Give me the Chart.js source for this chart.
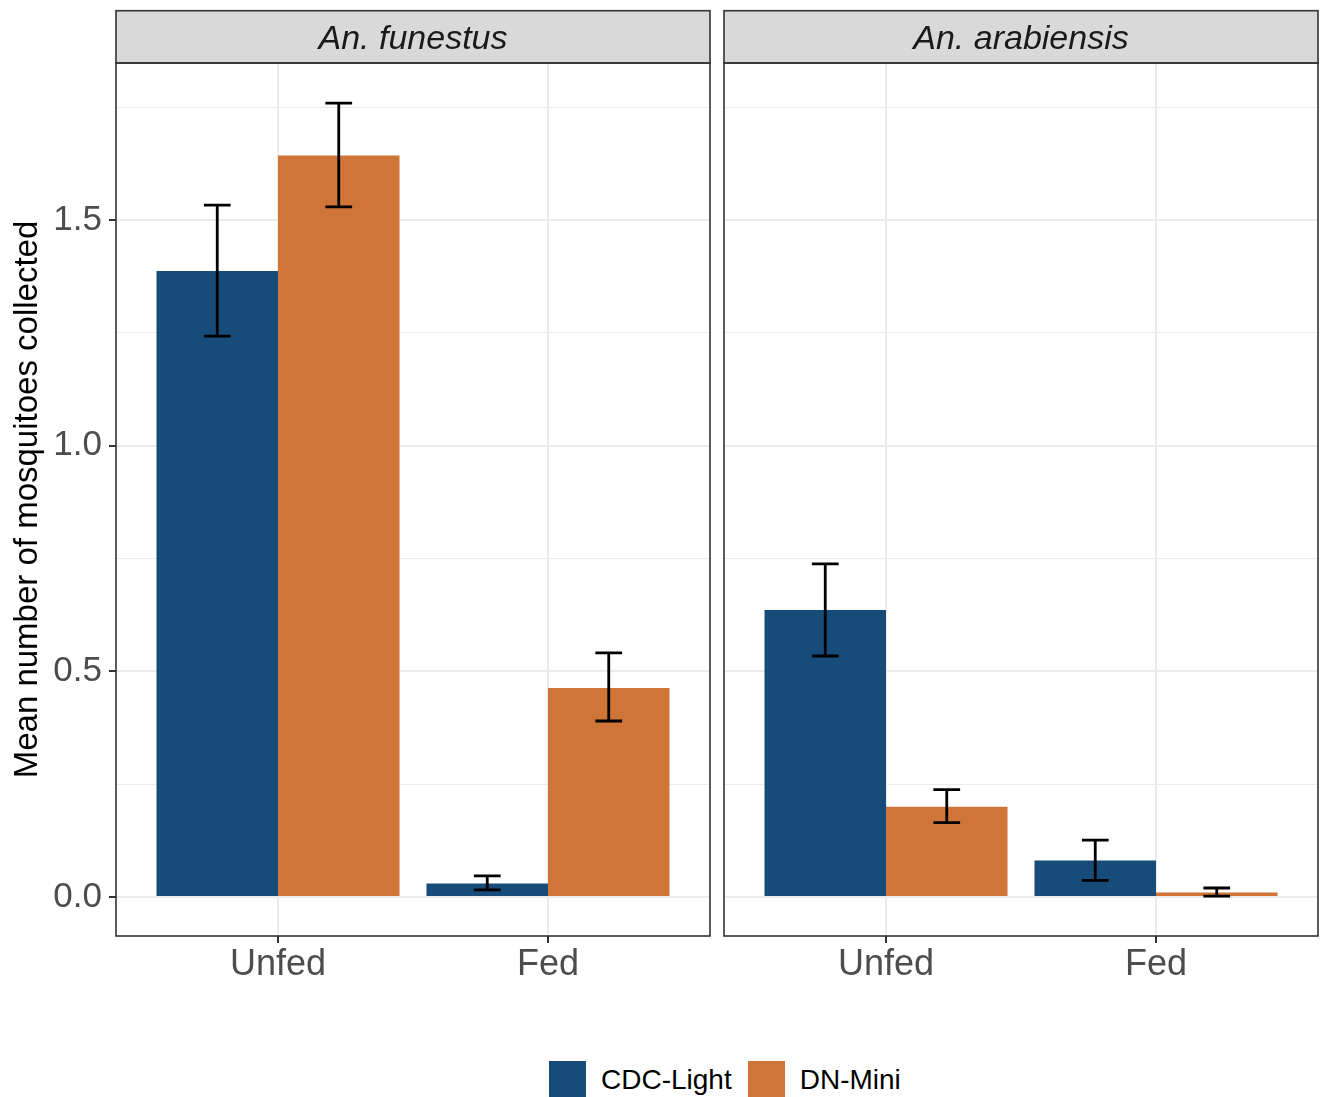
<!DOCTYPE html>
<html>
<head>
<meta charset="utf-8">
<script src="https://cdn.jsdelivr.net/npm/chart.js@4.4.1/dist/chart.umd.min.js"></script>
<style>
  body { margin: 0; background: #fff; width: 1324px; height: 1097px; overflow: hidden; position: relative; font-family: "Liberation Sans", Arial, sans-serif; }
  #left { position: absolute; left: 0; top: 0; }
  #right { position: absolute; left: 720px; top: 0; }
  #legend { position: absolute; left: 549px; top: 1061px; display: flex; align-items: center; }
  .key { width: 37px; height: 37px; margin-right: 15px; }
  .lbl { font-size: 28px; line-height: 37px; color: #000; margin-right: 16px; }
</style>
</head>
<body>
<canvas id="left" width="712" height="1000"></canvas>
<canvas id="right" width="604" height="1000"></canvas>
<div id="legend"></div>
<script>
// data
var categories = ['Unfed', 'Fed'];
var species = ['An. funestus', 'An. arabiensis'];
var traps = ['CDC-Light', 'DN-Mini'];
var trapColors = ['#174B7A', '#CF7538'];

var funestusCDC   = [1.387, 0.030];
var funestusCDCLo = [1.243, 0.016];
var funestusCDCHi = [1.533, 0.047];
var funestusDN    = [1.643, 0.463];
var funestusDNLo  = [1.529, 0.390];
var funestusDNHi  = [1.759, 0.541];

var arabiensisCDC   = [0.636, 0.081];
var arabiensisCDCLo = [0.534, 0.037];
var arabiensisCDCHi = [0.738, 0.126];
var arabiensisDN    = [0.200, 0.010];
var arabiensisDNLo  = [0.165, 0.002];
var arabiensisDNHi  = [0.238, 0.020];

var yTicks = [0, 0.25, 0.5, 0.75, 1.0, 1.25, 1.5, 1.75];
var yMin = -0.0864, yMax = 1.848;

Chart.defaults.font.family = '"Liberation Sans", Arial, sans-serif';
Chart.defaults.animation = false;

function isMajor(v) { return Math.abs(v * 2 - Math.round(v * 2)) < 1e-9; }

function toPoints(vals) {
    return vals.map(function(v, i) { return { x: i + 1, y: v }; });
}

// error bars, facet strip and panel border
var panelPlugin = {
    id: 'panel',
    afterDatasetsDraw: function(chart) {
        var ctx = chart.ctx;
        var yScale = chart.scales.y;
        var errs = chart.options.plugins.panel.errors;
        ctx.save();
        ctx.strokeStyle = '#000';
        ctx.lineWidth = 2.8;
        chart.data.datasets.forEach(function(ds, i) {
            var meta = chart.getDatasetMeta(i);
            meta.data.forEach(function(bar, j) {
                var lo = yScale.getPixelForValue(errs[i][0][j]);
                var hi = yScale.getPixelForValue(errs[i][1][j]);
                var half = bar.width * 0.11;
                ctx.beginPath();
                ctx.moveTo(bar.x, lo); ctx.lineTo(bar.x, hi);
                ctx.moveTo(bar.x - half, lo); ctx.lineTo(bar.x + half, lo);
                ctx.moveTo(bar.x - half, hi); ctx.lineTo(bar.x + half, hi);
                ctx.stroke();
            });
        });
        ctx.restore();
    },
    afterDraw: function(chart) {
        var ctx = chart.ctx;
        var a = chart.chartArea;
        var stripTop = 10.7;
        ctx.save();
        ctx.fillStyle = '#D9D9D9';
        ctx.fillRect(a.left, stripTop, a.right - a.left, a.top - stripTop);
        ctx.strokeStyle = '#333333';
        ctx.lineWidth = 1.6;
        ctx.strokeRect(a.left, stripTop, a.right - a.left, a.top - stripTop);
        ctx.strokeRect(a.left, a.top, a.right - a.left, a.bottom - a.top);
        ctx.fillStyle = '#1A1A1A';
        ctx.font = 'italic 34px "Liberation Sans", Arial, sans-serif';
        ctx.textAlign = 'center';
        ctx.textBaseline = 'alphabetic';
        ctx.fillText(chart.options.plugins.panel.strip, (a.left + a.right) / 2, (stripTop + a.top) / 2 + 12);
        ctx.restore();
    }
};

function makeChart(id, title, cdc, dn, errs, isLeft, pad) {
    return new Chart(document.getElementById(id), {
        type: 'bar',
        data: {
            datasets: [
                { label: traps[0], data: toPoints(cdc), backgroundColor: trapColors[0], borderWidth: 0 },
                { label: traps[1], data: toPoints(dn), backgroundColor: trapColors[1], borderWidth: 0 }
            ]
        },
        options: {
            responsive: false,
            layout: { padding: pad },
            categoryPercentage: 0.9,
            barPercentage: 1.0,
            plugins: {
                legend: { display: false },
                tooltip: { enabled: false },
                panel: { strip: title, errors: errs }
            },
            scales: {
                x: {
                    type: 'linear',
                    min: 0.4,
                    max: 2.6,
                    offset: false,
                    afterBuildTicks: function(s) { s.ticks = categories.map(function(c, i) { return { value: i + 1 }; }); },
                    afterFit: function(s) { s.height = 64; },
                    ticks: {
                        callback: function(v) { return categories[Math.round(v) - 1]; },
                        font: { size: 36, lineHeight: 1 },
                        color: '#4D4D4D',
                        padding: 4,
                        maxRotation: 0,
                        autoSkip: false
                    },
                    grid: { offset: false, color: '#EBEBEB', lineWidth: 2, tickLength: 7, tickColor: '#333333', tickWidth: 2 },
                    border: { display: false }
                },
                y: {
                    min: yMin,
                    max: yMax,
                    afterBuildTicks: function(s) { s.ticks = yTicks.map(function(v) { return { value: v }; }); },
                    afterFit: function(s) { s.width = isLeft ? 116 : 0; },
                    ticks: {
                        display: isLeft,
                        callback: function(v) { return isMajor(v) ? v.toFixed(1) : ''; },
                        font: { size: 35 },
                        color: '#4D4D4D',
                        padding: 7
                    },
                    grid: {
                        color: '#EBEBEB',
                        lineWidth: function(c) { return c.tick && isMajor(c.tick.value) ? 2 : 1; },
                        drawTicks: isLeft,
                        tickLength: 7,
                        tickWidth: 2,
                        tickColor: function(c) { return c.tick && isMajor(c.tick.value) ? '#333333' : 'rgba(0,0,0,0)'; }
                    },
                    border: { display: false },
                    title: {
                        display: isLeft,
                        text: 'Mean number of mosquitoes collected',
                        font: { size: 33 },
                        color: '#000',
                        padding: { top: 8, bottom: 0 }
                    }
                }
            }
        },
        plugins: [panelPlugin]
    });
}

makeChart('left', species[0], funestusCDC, funestusDN,
    [[funestusCDCLo, funestusCDCHi], [funestusDNLo, funestusDNHi]],
    true, { top: 63, left: 0, right: 2, bottom: 0 });
makeChart('right', species[1], arabiensisCDC, arabiensisDN,
    [[arabiensisCDCLo, arabiensisCDCHi], [arabiensisDNLo, arabiensisDNHi]],
    false, { top: 63, left: 4, right: 6, bottom: 0 });

// legend
var legend = document.getElementById('legend');
traps.forEach(function(t, i) {
    var k = document.createElement('div');
    k.className = 'key';
    k.style.background = trapColors[i];
    var l = document.createElement('span');
    l.className = 'lbl';
    l.textContent = t;
    legend.appendChild(k);
    legend.appendChild(l);
});
</script>
</body>
</html>
